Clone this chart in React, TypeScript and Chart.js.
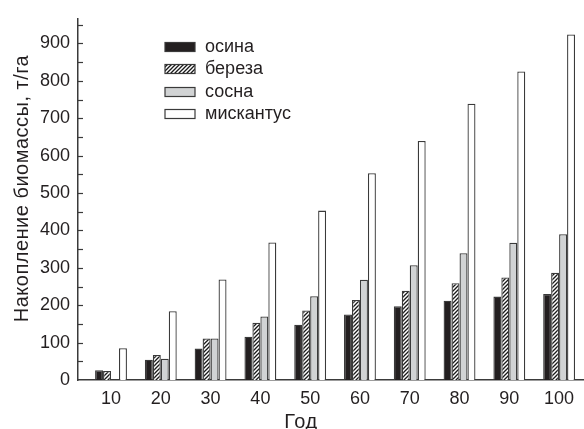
import React, { useEffect, useRef } from "react";
import { Chart, registerables } from "chart.js";

Chart.register(...registerables);

const years = [10, 20, 30, 40, 50, 60, 70, 80, 90, 100];
const osina = [26, 54, 84, 116, 148, 175, 197, 212, 223, 230];
const bereza = [24, 67, 111, 153, 186, 214, 239, 259, 274, 287];
const sosna = [0, 57, 111, 170, 224, 268, 307, 339, 367, 390];
const miskantus = [85, 184, 269, 368, 453, 553, 639, 739, 825, 924];
const seriesNames = ["осина", "береза", "сосна", "мискантус"];
const yTicks = [0, 100, 200, 300, 400, 500, 600, 700, 800, 900];
const yMinorTicks = [50, 150, 250, 350, 450, 550, 650, 750, 850, 950];
const yTitle = "Накопление биомассы, т/га";
const xTitle = "Год";

const FONT = "'Liberation Sans', Arial, Helvetica, sans-serif";
const TEXT = "#231f20";
const EDGE = "#3a3a3a";

function makeHatch(): CanvasPattern | string {
  const c = document.createElement("canvas");
  c.width = 4;
  c.height = 4;
  const g = c.getContext("2d");
  if (!g) return "#888";
  g.fillStyle = "#ffffff";
  g.fillRect(0, 0, 4, 4);
  g.strokeStyle = "#1a1a1a";
  g.lineWidth = 1.3;
  g.beginPath();
  g.moveTo(-1, 5);
  g.lineTo(5, -1);
  g.moveTo(-1, 1);
  g.lineTo(1, -1);
  g.moveTo(3, 5);
  g.lineTo(5, 3);
  g.stroke();
  const p = g.createPattern(c, "repeat");
  return p || "#888";
}

export default function App() {
  const ref = useRef<HTMLCanvasElement | null>(null);

  useEffect(() => {
    if (!ref.current) return;
    const hatch = makeHatch();
    const fills: any[] = ["#231f20", hatch, "#d1d3d4", "#ffffff"];
    const values = [osina, bereza, sosna, miskantus];

    const decor = {
      id: "decor",
      afterDraw(chart: any) {
        const ctx = chart.ctx as CanvasRenderingContext2D;
        const ys = chart.scales.y;
        const area = chart.chartArea;
        ctx.save();
        ctx.strokeStyle = EDGE;
        ctx.lineWidth = 1.2;
        [...yTicks, ...yMinorTicks].forEach((v) => {
          if (v === 0) return;
          const py = Math.round(ys.getPixelForValue(v)) + 0.5;
          ctx.beginPath();
          ctx.moveTo(area.left, py);
          ctx.lineTo(area.left + 5, py);
          ctx.stroke();
        });
        ctx.fillStyle = TEXT;
        ctx.font = `20px ${FONT}`;
        ctx.textAlign = "center";
        ctx.textBaseline = "alphabetic";
        (ctx as any).letterSpacing = "0.5px";
        ctx.save();
        ctx.translate(27.5, 188.5);
        ctx.rotate(-Math.PI / 2);
        ctx.fillText(yTitle, 0, 0);
        ctx.restore();
        ctx.fillText(xTitle, 301, 427.5);
        (ctx as any).letterSpacing = "0px";
        const rows = [47, 69, 92, 114];
        ctx.font = `18px ${FONT}`;
        ctx.textAlign = "left";
        ctx.textBaseline = "middle";
        seriesNames.forEach((name, i) => {
          const y = rows[i];
          ctx.fillStyle = fills[i];
          ctx.fillRect(165, y - 4.5, 30, 9);
          ctx.strokeStyle = EDGE;
          ctx.lineWidth = 1.2;
          ctx.strokeRect(165, y - 4.5, 30, 9);
          ctx.fillStyle = TEXT;
          ctx.fillText(name, 205, y);
        });
        ctx.restore();
      },
    };

    const chart = new Chart(ref.current, {
      type: "bar",
      data: {
        datasets: seriesNames.map((name, i) => ({
          label: name,
          data: years.map((yr, j) => ({ x: yr, y: values[i][j] })),
          backgroundColor: fills[i],
          borderColor: EDGE,
          borderWidth: 1.3,
          categoryPercentage: 0.64,
          barPercentage: 1,
        })),
      },
      options: {
        animation: false,
        responsive: false,
        maintainAspectRatio: false,
        layout: { padding: { top: 12, right: 0, left: 0, bottom: 0 } },
        plugins: {
          legend: { display: false },
          tooltip: { enabled: false },
        },
        scales: {
          x: {
            type: "linear",
            offset: false,
            min: 3.37,
            max: 105,
            grid: { display: false, drawTicks: false, offset: false },
            border: { display: true, color: EDGE, width: 1.5 },
            ticks: {
              font: { family: FONT, size: 18 },
              color: TEXT,
              padding: 8,
            },
            afterBuildTicks: (s: any) => {
              s.ticks = years.map((v) => ({ value: v }));
            },
            afterFit: (s: any) => {
              s.height = 49;
            },
          },
          y: {
            min: 0,
            max: 966,
            grid: { display: false, drawTicks: false },
            border: { display: true, color: EDGE, width: 1.5 },
            ticks: {
              font: { family: FONT, size: 18 },
              color: TEXT,
              padding: 8,
            },
            afterBuildTicks: (s: any) => {
              s.ticks = yTicks.map((v) => ({ value: v }));
            },
            afterFit: (s: any) => {
              s.width = 78;
            },
          },
        },
      } as any,
      plugins: [decor],
    });
    return () => chart.destroy();
  }, []);

  return (
    <div style={{ position: "absolute", left: 0, top: 0, width: 584, height: 429, background: "#fff" }}>
      <canvas ref={ref} width={584} height={429} style={{ width: 584, height: 429 }} />
    </div>
  );
}
